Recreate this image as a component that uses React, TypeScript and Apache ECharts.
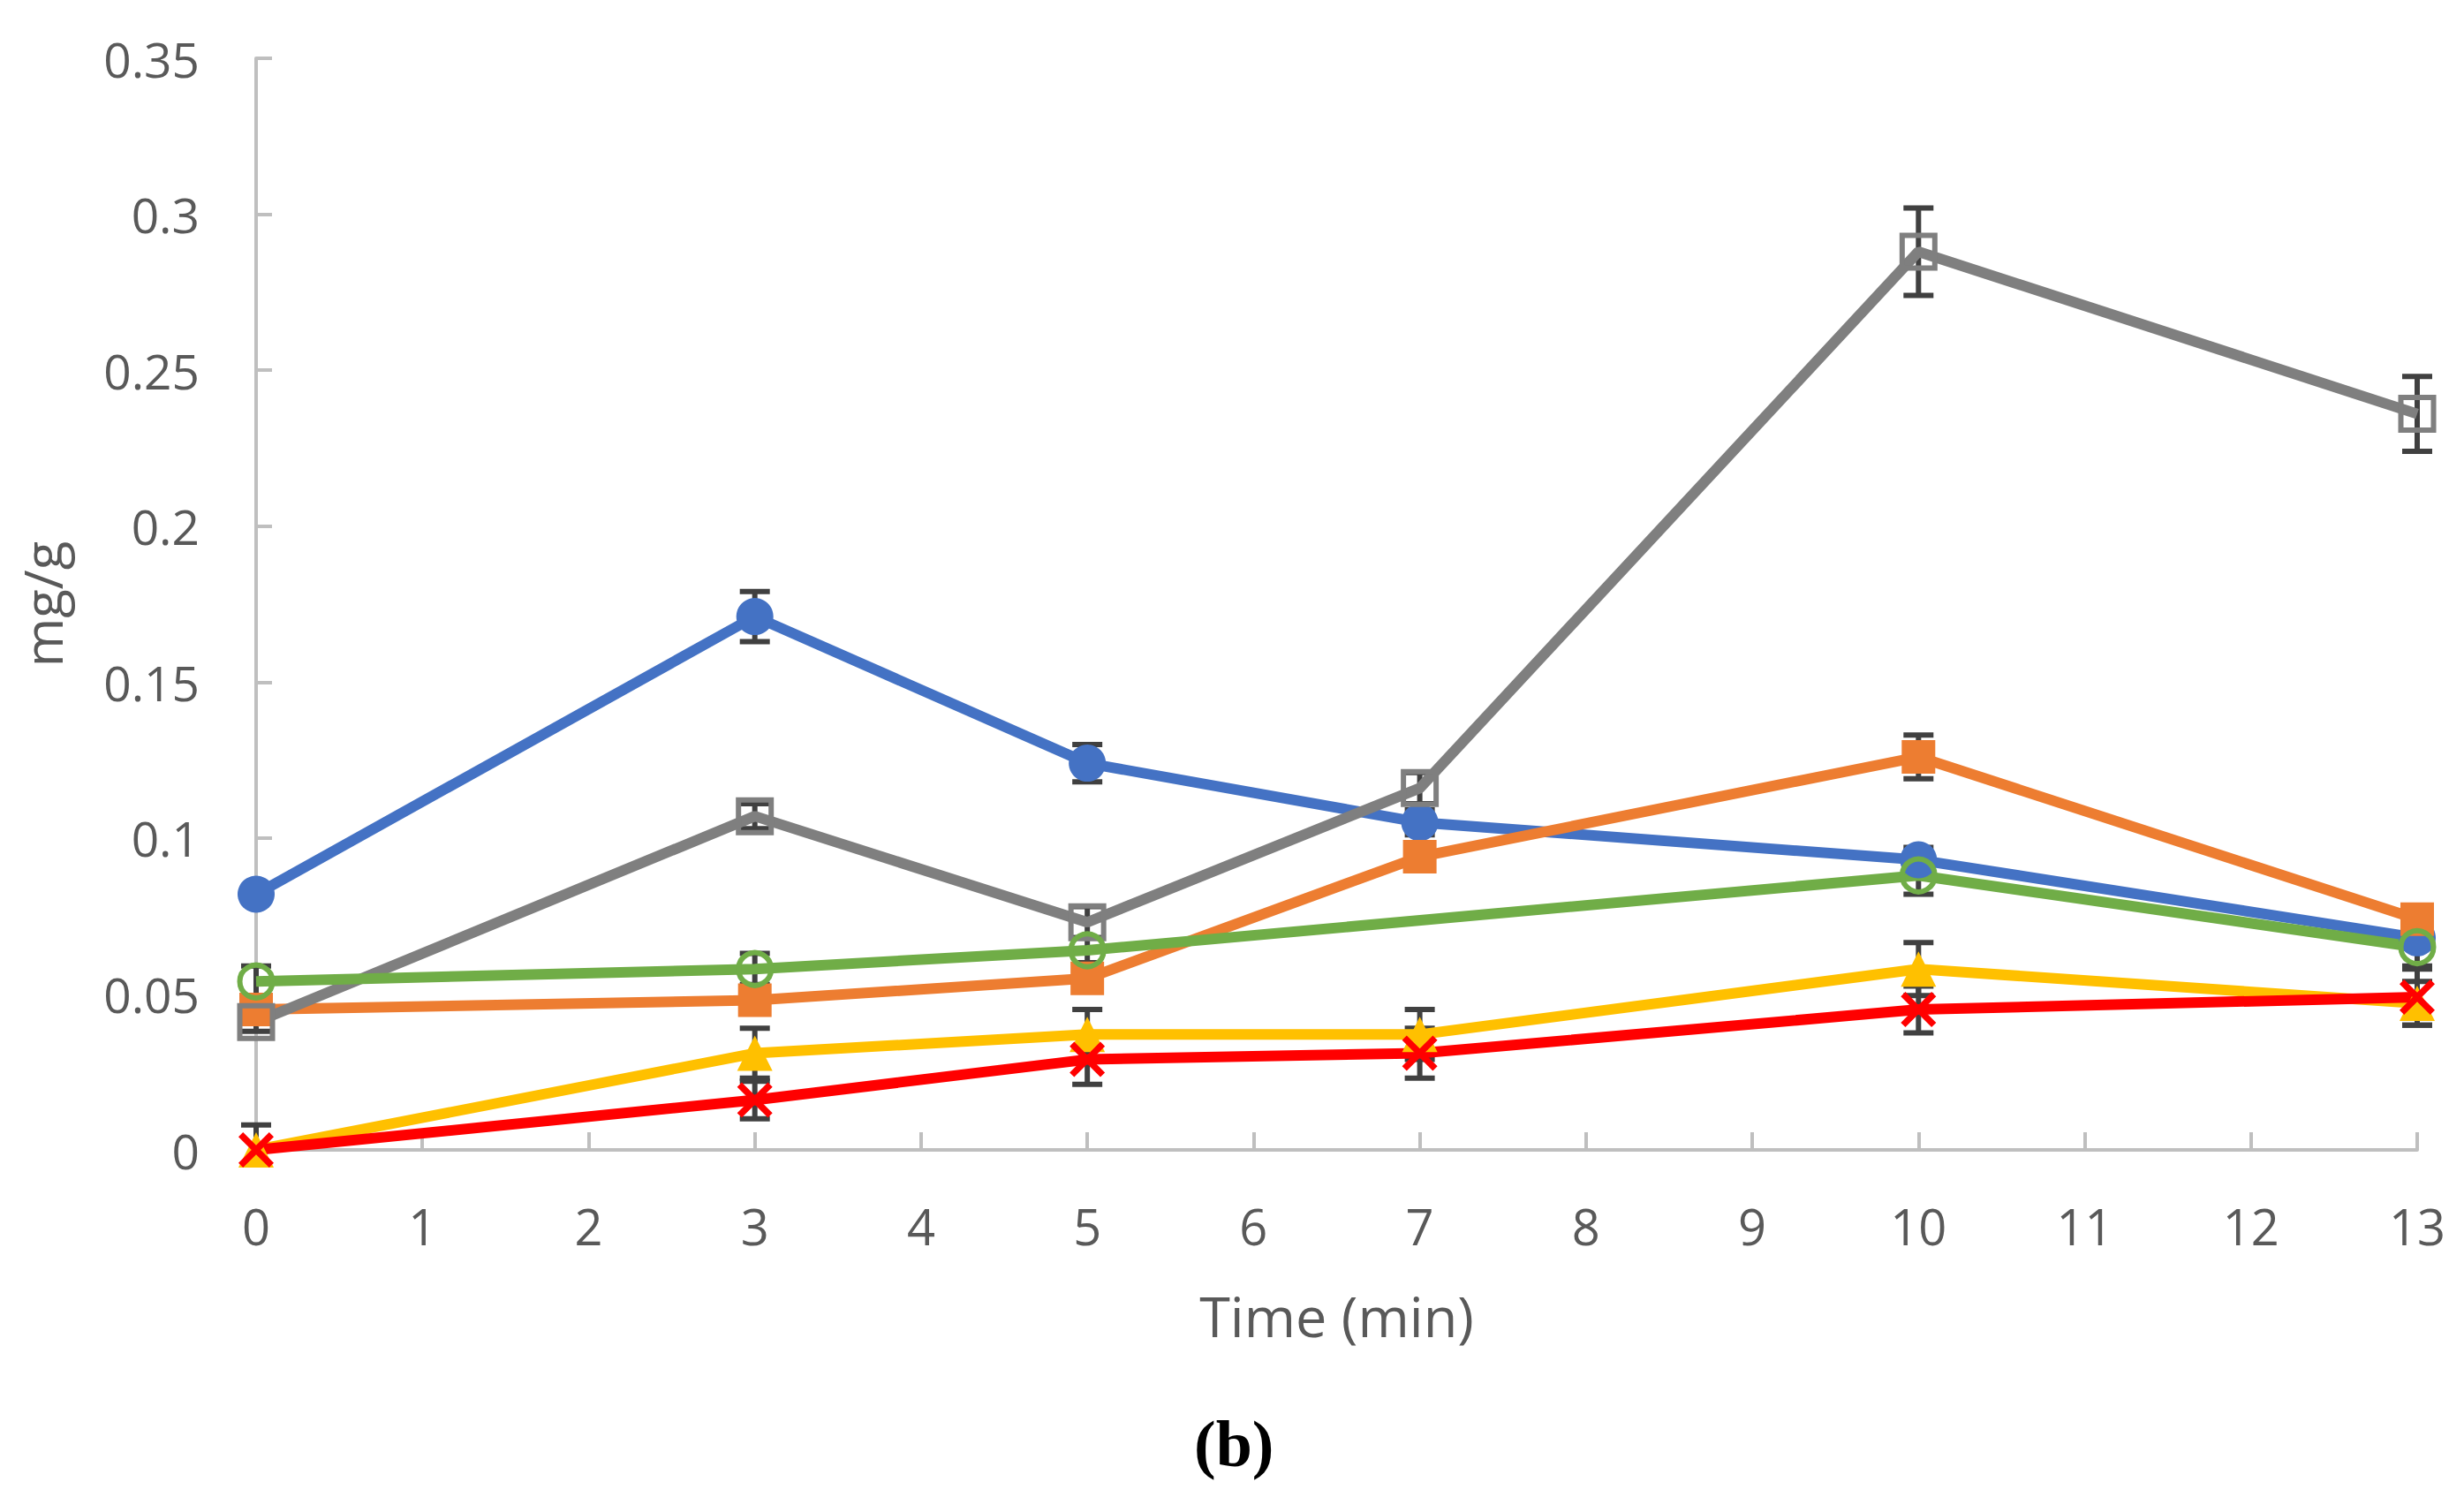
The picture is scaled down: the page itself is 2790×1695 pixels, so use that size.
import { useEffect, useRef } from 'react';
import * as echarts from 'echarts';

// sampling times (min)
const times = [0, 3, 5, 7, 10, 13];

// mg/g per series, with +/- error
const blueVals = [0.082, 0.171, 0.124, 0.105, 0.093, 0.068];
const blueErr = [0, 0.008, 0.006, 0.004, 0.004, 0.003];

const orangeVals = [0.045, 0.048, 0.055, 0.094, 0.126, 0.074];
const orangeErr = [0.003, 0.004, 0.003, 0.003, 0.007, 0.004];

const grayVals = [0.041, 0.107, 0.073, 0.116, 0.288, 0.236];
const grayErr = [0.003, 0.004, 0.005, 0.005, 0.014, 0.012];

const greenVals = [0.054, 0.058, 0.064, null, 0.088, 0.065];
const greenErr = [0.005, 0.005, 0.004, null, 0.006, 0.006];

const yellowVals = [0, 0.031, 0.037, 0.037, 0.058, 0.047];
const yellowErr = [0.008, 0.008, 0.008, 0.008, 0.0085, 0.007];

const redVals = [0, 0.016, 0.029, 0.031, 0.045, 0.049];
const redErr = [0, 0.006, 0.008, 0.008, 0.0075, 0.009];

const FONT = '"Open Sans", "Noto Sans", sans-serif';
const TEXT = '#595959';
const AXIS = '#BFBFBF';
const X_MARK =
  'path://M0,1.3L1.3,0L5,3.7L8.7,0L10,1.3L6.3,5L10,8.7L8.7,10L5,6.3L1.3,10L0,8.7L3.7,5Z';

interface SeriesDef {
  name: string;
  values: (number | null)[];
  errors: (number | null)[];
  color: string;
  symbol: string;
  symbolSize: number;
  hollow?: boolean;
}

const seriesDefs: SeriesDef[] = [
  { name: 'A', values: blueVals, errors: blueErr, color: '#4472C4', symbol: 'circle', symbolSize: 42 },
  { name: 'B', values: orangeVals, errors: orangeErr, color: '#ED7D31', symbol: 'rect', symbolSize: 38 },
  { name: 'C', values: grayVals, errors: grayErr, color: '#7F7F7F', symbol: 'rect', symbolSize: 37, hollow: true },
  { name: 'D', values: greenVals, errors: greenErr, color: '#70AD47', symbol: 'circle', symbolSize: 37, hollow: true },
  { name: 'E', values: yellowVals, errors: yellowErr, color: '#FFC000', symbol: 'triangle', symbolSize: 40 },
  { name: 'F', values: redVals, errors: redErr, color: '#FF0000', symbol: X_MARK, symbolSize: 40 },
];

const errorBarRender = (_params: any, api: any) => {
  const x = api.value(0);
  const y = api.value(1);
  const e = api.value(2);
  if (!e) return null;
  const top = api.coord([x, y + e]);
  const low = y - e;
  const bottom = api.coord([x, Math.max(low, 0)]);
  const half = 17;
  const style = { stroke: '#404040', lineWidth: 6 };
  const children: any[] = [
    { type: 'line', shape: { x1: top[0], y1: top[1], x2: bottom[0], y2: bottom[1] }, style },
    { type: 'line', shape: { x1: top[0] - half, y1: top[1], x2: top[0] + half, y2: top[1] }, style },
  ];
  if (low >= 0) {
    children.push({
      type: 'line',
      shape: { x1: bottom[0] - half, y1: bottom[1], x2: bottom[0] + half, y2: bottom[1] },
      style,
    });
  }
  return { type: 'group', children };
};

const App = () => {
  const chartRef = useRef<HTMLDivElement>(null);

  useEffect(() => {
    if (!chartRef.current) return;
    document.body.style.margin = '0';

    const chart = echarts.init(chartRef.current, undefined, { renderer: 'svg' });

    const series: any[] = [];
    seriesDefs.forEach((s) => {
      series.push({
        type: 'custom',
        name: s.name + ' err',
        renderItem: errorBarRender,
        data: times
          .map((t, i) => [t, s.values[i], s.errors[i]])
          .filter((d) => d[1] !== null),
        encode: { x: 0, y: 1 },
        z: 2,
        silent: true,
      });
      series.push({
        type: 'line',
        name: s.name,
        data: times.map((t, i) => [t, s.values[i]]),
        connectNulls: true,
        symbol: s.symbol,
        symbolSize: s.symbolSize,
        showAllSymbol: true,
        lineStyle: { color: s.color, width: 12 },
        itemStyle: s.hollow
          ? { color: 'rgba(255,255,255,0)', borderColor: s.color, borderWidth: 6 }
          : { color: s.color, borderWidth: 0 },
        z: 2,
      });
    });

    const option = {
      animation: false,
      backgroundColor: '#ffffff',
      grid: { left: 290, right: 53, top: 66, bottom: 393, containLabel: false },
      xAxis: {
        type: 'value',
        min: 0,
        max: 13,
        interval: 1,
        name: 'Time (min)',
        nameLocation: 'middle',
        nameGap: 156,
        nameTextStyle: { fontFamily: FONT, fontSize: 63, color: TEXT },
        axisLine: { show: true, lineStyle: { color: AXIS, width: 4 } },
        axisTick: { show: true, inside: true, length: 20, lineStyle: { color: AXIS, width: 4 } },
        axisLabel: { fontFamily: FONT, fontSize: 56, color: TEXT, margin: 58 },
        splitLine: { show: false },
      },
      yAxis: {
        type: 'value',
        min: 0,
        max: 0.35,
        interval: 0.05,
        name: 'mg/g',
        nameLocation: 'middle',
        nameRotate: 90,
        nameGap: 212,
        nameTextStyle: { fontFamily: FONT, fontSize: 60, color: TEXT },
        axisLine: { show: true, lineStyle: { color: AXIS, width: 4 } },
        axisTick: { show: true, inside: true, length: 18, lineStyle: { color: AXIS, width: 4 } },
        axisLabel: {
          fontFamily: FONT,
          fontSize: 55,
          color: TEXT,
          margin: 64,
          formatter: (v: number) => String(parseFloat(v.toFixed(2))),
        },
        splitLine: { show: false },
      },
      graphic: [
        {
          type: 'text',
          left: 1352,
          top: 1598,
          style: {
            text: '(b)',
            font: 'bold 74px "Liberation Serif", "Times New Roman", serif',
            fill: '#000000',
          },
        },
      ],
      series,
    };

    chart.setOption(option);

    const handleResize = () => chart.resize();
    window.addEventListener('resize', handleResize);

    return () => {
      window.removeEventListener('resize', handleResize);
      chart.dispose();
    };
  }, []);

  return <div ref={chartRef} style={{ width: '2790px', height: '1695px' }} />;
};

export default App;
